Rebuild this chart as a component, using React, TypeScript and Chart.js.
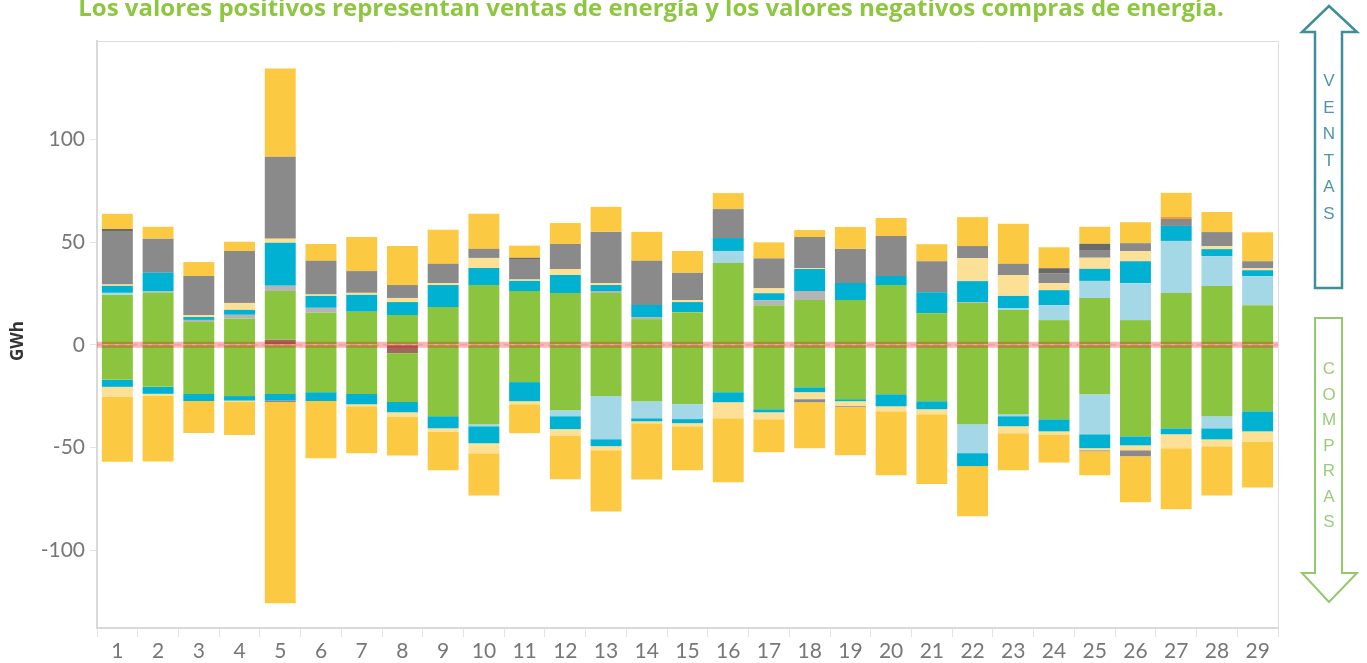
import React, { useEffect, useRef } from 'react';
import { Chart, registerables } from 'chart.js';

Chart.register(...registerables);

const CATEGORIES = ['1','2','3','4','5','6','7','8','9','10','11','12','13','14','15','16','17','18','19','20','21','22','23','24','25','26','27','28','29'];
const Y_TICKS = [-100, -50, 0, 50, 100];
const TITLE = 'Los valores positivos representan ventas de energía y los valores negativos compras de energía.';
const Y_TITLE = 'GWh';
const VENTAS = ['V', 'E', 'N', 'T', 'A', 'S'];
const COMPRAS = ['C', 'O', 'M', 'P', 'R', 'A', 'S'];

// Positive (ventas) series, GWh
const darkredPos = [0,0,0,0,2.4,0,0,0,0,0,0,0,0,0,0,0,0,0,0,0,0,0,0,0,0,0,0,0,0];
const greenPos = [24.3,25.3,11.1,12.7,23.8,15.6,16.1,14.5,18.4,29.1,26.2,25.2,25.2,12.5,15.9,39.8,19.3,21.8,21.8,29.1,15.4,20.3,16.9,12.0,22.8,12.0,25.2,28.6,19.3];
const lightgrayPos = [0,0.7,1.0,1.9,2.6,2.4,0,0,0,0,0,0,1.0,1.0,0,0,2.4,4.4,0,0,0,0.5,0,0,0,0,0,0,0];
const lightbluePos = [1.0,0,0,0,0,0,0,0,0,0,0,0,0,0,0,5.9,0,0,0,0,0,0,1.0,7.3,8.3,18.0,25.4,14.6,14.1];
const cyanPos = [3.4,9.1,1.4,2.4,20.9,5.8,8.2,6.3,10.7,8.3,4.9,8.8,2.9,5.9,4.9,6.3,3.4,10.7,8.3,4.4,10.2,10.2,5.9,7.3,5.9,10.7,7.3,3.4,2.9];
const lightyellowPos = [0.7,0,1.0,3.4,2.0,0.7,1.0,2.0,1.0,4.9,0.7,2.9,1.0,0,1.0,0,2.4,0.5,0,0,0,11.2,10.2,3.4,5.4,4.9,0,1.5,1.0];
const grayPos = [26.0,16.6,19.0,25.3,39.9,16.4,10.6,6.3,9.3,4.4,9.6,12.2,24.9,21.5,13.2,14.1,14.6,15.1,16.6,19.5,15.1,5.9,5.4,4.9,3.4,3.9,3.4,6.8,3.4];
const darkgrayPos = [1.0,0,0,0,0,0,0,0,0,0,1.0,0,0,0,0,0,0,0,0,0,0,0,0,2.4,3.4,0,0,0,0];
const orangePos = [0,0,0,0,0,0,0,0,0,0,0,0,0,0,0,0,0,0,0,0,0,0,0,0,0,0,1.0,0,0];
const yellowPos = [7.4,5.8,6.8,4.5,43.0,8.2,16.6,19.0,16.6,17.1,5.9,10.2,12.2,14.1,10.7,7.8,7.8,3.4,10.7,8.8,8.3,14.1,19.5,10.2,8.3,10.2,11.7,9.8,14.1];

// Negative (compras) series, GWh
const darkredNeg = [0,0,0,0,0,0,0,-4.1,0,0,0,0,0,0,0,0,0,0,0,0,0,0,0,0,0,0,0,0,0];
const greenNeg = [-17.1,-20.5,-24,-25,-24,-23.1,-24,-23.8,-34.8,-38.7,-18.2,-31.9,-25,-27.5,-28.9,-23.1,-31.4,-20.7,-26.5,-24.1,-27.5,-38.7,-33.8,-36.3,-24.1,-44.6,-40.7,-34.8,-32.4];
const lightblueNeg = [0,0,0,0,0,0,0,0,0,-1.0,0,-2.9,-21,-8.3,-7.3,0,0,0,0,0,0,-14.1,-1.0,0,-19.5,0,0,-5.9,0];
const cyanNeg = [-3.4,-3.4,-3.4,-2.2,-3.1,-4.3,-5.0,-5.0,-5.9,-8.3,-9.3,-6.3,-3.4,-1.5,-2.0,-4.9,-1.5,-2.4,-1.0,-5.9,-3.9,-6.3,-4.9,-5.9,-6.8,-4.4,-2.9,-5.4,-9.8];
const lightyellowNeg = [-5.0,-1.0,0,-0.7,0,0,-0.9,-2.0,-1.5,-4.9,-1.5,-3.4,-2.0,-1.0,-1.5,-7.8,-3.4,-3.4,-2.4,-2.4,-2.4,0,-3.4,-1.5,-1.0,-2.4,-6.8,-3.4,-4.9];
const grayNeg = [0,0,0,0,-0.8,0,0,0,0,0,0,0,0,0,0,0,0,-1.5,-0.5,0,0,0,0,0,-0.5,-2.9,0,0,0];
const yellowNeg = [-31.5,-32,-15.6,-16.1,-98.1,-27.9,-22.9,-19,-19,-20.5,-14.1,-21,-29.8,-27.3,-21.5,-31.2,-16.1,-22.4,-23.4,-31.2,-34.1,-24.4,-18,-13.7,-11.7,-22.4,-29.8,-23.9,-22.4];

const C_DARKRED = '#a0685a';
const C_GREEN = '#8bc53f';
const C_LIGHTGRAY = '#b5b5b5';
const C_LIGHTBLUE = '#a5d8e6';
const C_CYAN = '#00b1d1';
const C_LIGHTYELLOW = '#fbe096';
const C_GRAY = '#8a8a8a';
const C_DARKGRAY = '#6a6a6a';
const C_ORANGE = '#f39a2c';
const C_YELLOW = '#fcc942';

const TICK_FONT = { family: 'Lato, "Open Sans", sans-serif', size: 21 };

export default function App() {
  const ref = useRef<HTMLCanvasElement>(null);

  useEffect(() => {
    const ds = (data: number[], color: string) => ({
      data,
      backgroundColor: color,
      borderWidth: 0,
      barPercentage: 0.76,
      categoryPercentage: 1,
    });

    const overlay = {
      id: 'overlay',
      afterDatasetsDraw(chart: any) {
        const { ctx, chartArea, scales } = chart;
        const y0 = scales.y.getPixelForValue(0);
        ctx.save();
        ctx.fillStyle = 'rgba(236,8,18,0.29)';
        ctx.fillRect(chartArea.left, y0 - 3, chartArea.right - chartArea.left, 6);
        ctx.strokeStyle = 'rgba(236,8,18,0.12)';
        ctx.lineWidth = 2;
        ctx.setLineDash([7, 4]);
        ctx.beginPath();
        ctx.moveTo(chartArea.left, y0);
        ctx.lineTo(chartArea.right, y0);
        ctx.stroke();
        ctx.restore();
      },
      afterDraw(chart: any) {
        const { ctx, chartArea } = chart;
        ctx.save();
        ctx.strokeStyle = '#dedede';
        ctx.lineWidth = 1;
        ctx.beginPath();
        ctx.moveTo(chartArea.left, chartArea.top + 0.5);
        ctx.lineTo(chartArea.right + 0.5, chartArea.top + 0.5);
        ctx.lineTo(chartArea.right + 0.5, chartArea.bottom);
        ctx.stroke();
        ctx.fillStyle = '#8dc63f';
        ctx.font = 'bold 24px "Open Sans", sans-serif';
        ctx.textAlign = 'center';
        ctx.textBaseline = 'alphabetic';
        ctx.fillText(TITLE, 651, 16);
        ctx.translate(18, 341);
        ctx.rotate(-Math.PI / 2);
        ctx.fillStyle = '#333333';
        ctx.font = 'bold 17px "Open Sans", sans-serif';
        ctx.textBaseline = 'middle';
        ctx.fillText(Y_TITLE, 0, 0);
        ctx.restore();
      },
    };

    const chart = new Chart(ref.current as HTMLCanvasElement, {
      type: 'bar',
      data: {
        labels: CATEGORIES,
        datasets: [
          ds(darkredPos, C_DARKRED),
          ds(darkredNeg, C_DARKRED),
          ds(greenPos, C_GREEN),
          ds(greenNeg, C_GREEN),
          ds(lightgrayPos, C_LIGHTGRAY),
          ds(lightbluePos, C_LIGHTBLUE),
          ds(lightblueNeg, C_LIGHTBLUE),
          ds(cyanPos, C_CYAN),
          ds(cyanNeg, C_CYAN),
          ds(lightyellowPos, C_LIGHTYELLOW),
          ds(lightyellowNeg, C_LIGHTYELLOW),
          ds(grayPos, C_GRAY),
          ds(grayNeg, C_GRAY),
          ds(darkgrayPos, C_DARKGRAY),
          ds(orangePos, C_ORANGE),
          ds(yellowPos, C_YELLOW),
          ds(yellowNeg, C_YELLOW),
        ] as any,
      },
      options: {
        animation: false,
        responsive: false,
        layout: { padding: { left: 0, right: 89, top: 41, bottom: 0 } },
        plugins: {
          legend: { display: false },
          tooltip: { enabled: false },
          title: { display: false },
        },
        scales: {
          x: {
            stacked: true,
            grid: { drawOnChartArea: false, offset: true, tickLength: 9, color: '#e3e3e3' },
            border: { color: '#d9d9d9', width: 2 },
            ticks: { font: TICK_FONT, color: '#777777', padding: 2, maxRotation: 0, autoSkip: false },
            afterFit: (s: any) => { s.height = 35; },
          },
          y: {
            stacked: true,
            min: -138,
            max: 148,
            afterBuildTicks: (s: any) => { s.ticks = Y_TICKS.map((v) => ({ value: v })); },
            grid: { drawOnChartArea: false, tickLength: 7, color: '#e3e3e3' },
            border: { color: '#d9d9d9', width: 2 },
            ticks: { font: TICK_FONT, color: '#777777', padding: 5 },
            afterFit: (s: any) => { s.width = 97; },
          },
        },
      },
      plugins: [overlay],
    } as any);

    return () => chart.destroy();
  }, []);

  return (
    <div style={{ position: 'fixed', left: 0, top: 0, width: 1367, height: 663, background: '#fff' }}>
      <canvas ref={ref} width={1367} height={663} style={{ position: 'absolute', left: 0, top: 0 }} />
      <svg width={1367} height={663} style={{ position: 'absolute', left: 0, top: 0, pointerEvents: 'none' }}>
        <path d="M1329,6 L1357,32 L1342,32 L1342,288 L1315,288 L1315,32 L1302,32 Z"
          fill="none" stroke="#3f8e98" strokeWidth={2.5} strokeLinejoin="miter" />
        {VENTAS.map((ch, i) => (
          <text key={'v' + i} x={1329} y={82 + i * 26.5} textAnchor="middle" dominantBaseline="middle"
            fontFamily='"Liberation Sans", Arial, sans-serif' fontSize={17} fill="#4f97a1">{ch}</text>
        ))}
        <path d="M1315,318 L1342,318 L1342,573 L1357,573 L1329,602 L1302,573 L1315,573 Z"
          fill="none" stroke="#93c96a" strokeWidth={2} strokeLinejoin="miter" />
        {COMPRAS.map((ch, i) => (
          <text key={'c' + i} x={1329} y={370 + i * 25.5} textAnchor="middle" dominantBaseline="middle"
            fontFamily='"Liberation Sans", Arial, sans-serif' fontSize={17} fill="#9ccb7a">{ch}</text>
        ))}
      </svg>
    </div>
  );
}
